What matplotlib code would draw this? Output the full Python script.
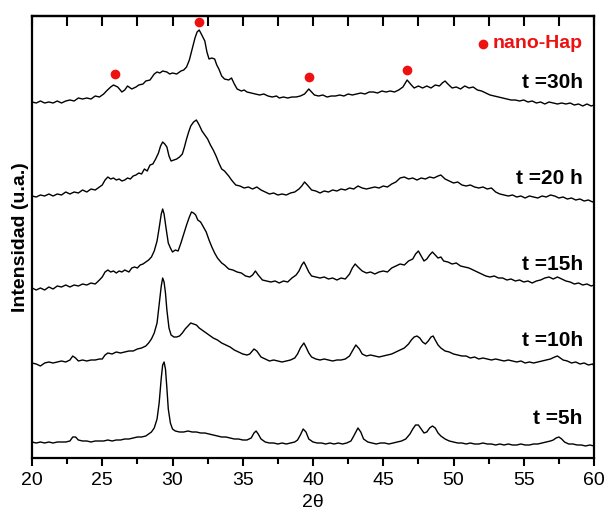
import matplotlib
matplotlib.use("Agg")
import matplotlib.pyplot as plt
from matplotlib.ticker import MultipleLocator

# ---------------- data (arbitrary intensity units) ----------------
x_5h = [20.0, 20.3, 20.6, 20.9, 21.2, 21.5, 21.8, 22.1, 22.4, 22.7, 22.9, 23.1, 23.3, 23.6, 23.9, 24.2,
        24.5, 24.8, 25.1, 25.4, 25.7, 26.0, 26.3, 26.6, 26.9, 27.2, 27.5, 27.8, 28.1, 28.3, 28.5, 28.7,
        28.9, 29.05, 29.2, 29.3, 29.4, 29.5, 29.6, 29.7, 29.85, 30.0, 30.2, 30.5, 30.8, 31.1, 31.4, 31.7,
        32.0, 32.3, 32.6, 32.9, 33.2, 33.5, 33.8, 34.1, 34.4, 34.7, 35.0, 35.3, 35.6, 35.8, 35.95, 36.1,
        36.3, 36.6, 36.9, 37.2, 37.5, 37.8, 38.1, 38.4, 38.7, 38.9, 39.1, 39.3, 39.5, 39.7, 40.0, 40.3,
        40.6, 40.9, 41.2, 41.5, 41.8, 42.1, 42.4, 42.7, 42.9, 43.2, 43.4, 43.6, 43.9, 44.2, 44.5, 44.8,
        45.1, 45.4, 45.7, 46.0, 46.3, 46.6, 46.9, 47.1, 47.3, 47.5, 47.7, 47.9, 48.1, 48.3, 48.5, 48.7,
        48.9, 49.1, 49.4, 49.7, 50.0, 50.3, 50.6, 50.9, 51.2, 51.5, 51.8, 52.1, 52.4, 52.7, 53.0, 53.3,
        53.6, 53.9, 54.2, 54.5, 54.8, 55.1, 55.4, 55.7, 56.0, 56.3, 56.6, 56.9, 57.1, 57.3, 57.5, 57.7,
        57.9, 58.2, 58.5, 58.8, 59.1, 59.4, 59.7, 60.0]
y_5h = [16, 15, 16, 15, 16, 15, 16, 16, 16, 17, 21, 21, 18, 17, 17, 16,
        17, 17, 17, 18, 17, 18, 18, 19, 19, 20, 21, 21, 22, 24, 26, 30,
        39, 55, 80, 93, 96, 89, 70, 49, 35, 29, 27, 26, 26, 27, 26, 26,
        25, 25, 24, 23, 22, 21, 21, 20, 19, 19, 18, 18, 20, 25, 27, 24,
        19, 16, 15, 15, 14, 15, 14, 15, 16, 18, 23, 29, 26, 19, 16, 15,
        15, 14, 15, 14, 15, 14, 15, 17, 22, 30, 26, 19, 16, 15, 14, 15,
        15, 14, 15, 16, 17, 19, 24, 29, 33, 33, 29, 25, 26, 30, 32, 30,
        25, 22, 19, 17, 16, 15, 15, 14, 15, 14, 14, 15, 14, 14, 13, 14,
        13, 14, 13, 13, 14, 13, 13, 14, 14, 15, 16, 17, 18, 20, 21, 19,
        16, 14, 14, 13, 13, 12, 13, 12]

x_10h = [20.0, 20.3, 20.6, 20.9, 21.2, 21.5, 21.8, 22.1, 22.4, 22.7, 22.9, 23.1, 23.3, 23.6, 23.9, 24.2,
         24.5, 24.8, 25.0, 25.2, 25.4, 25.7, 26.0, 26.3, 26.6, 26.9, 27.2, 27.5, 27.8, 28.1, 28.3, 28.5,
         28.7, 28.9, 29.05, 29.2, 29.3, 29.4, 29.5, 29.6, 29.75, 29.9, 30.1, 30.3, 30.5, 30.7, 30.9, 31.1,
         31.3, 31.5, 31.7, 31.9, 32.1, 32.3, 32.6, 32.9, 33.2, 33.5, 33.8, 34.1, 34.4, 34.7, 35.0, 35.3,
         35.5, 35.8, 36.0, 36.3, 36.6, 36.9, 37.2, 37.5, 37.8, 38.1, 38.4, 38.7, 38.9, 39.1, 39.35, 39.5,
         39.7, 39.9, 40.2, 40.5, 40.8, 41.1, 41.4, 41.7, 42.0, 42.3, 42.6, 42.8, 43.05, 43.3, 43.5, 43.8,
         44.1, 44.4, 44.7, 45.0, 45.3, 45.6, 45.9, 46.2, 46.5, 46.8, 47.0, 47.2, 47.4, 47.6, 47.8, 48.0,
         48.2, 48.4, 48.55, 48.7, 48.9, 49.1, 49.4, 49.7, 50.0, 50.3, 50.6, 50.9, 51.2, 51.5, 51.8, 52.1,
         52.4, 52.7, 53.0, 53.3, 53.6, 53.9, 54.2, 54.5, 54.8, 55.1, 55.4, 55.7, 56.0, 56.3, 56.6, 56.9,
         57.2, 57.4, 57.6, 57.8, 58.1, 58.4, 58.7, 59.0, 59.3, 59.6, 59.9, 60.0]
y_10h = [95, 94, 92, 95, 96, 95, 96, 97, 96, 98, 102, 100, 97, 98, 97, 98,
         98, 99, 99, 103, 105, 104, 106, 105, 106, 107, 107, 109, 110, 112, 115, 119,
         125, 135, 154, 172, 180, 176, 165, 148, 130, 123, 121, 121, 122, 125, 129, 132,
         135, 134, 133, 130, 128, 126, 123, 120, 118, 115, 113, 111, 108, 106, 104, 103,
         104, 109, 107, 101, 99, 97, 98, 97, 96, 97, 98, 100, 104, 110, 115, 111,
         105, 101, 99, 98, 99, 98, 97, 98, 98, 99, 102, 107, 113, 109, 104, 102,
         103, 102, 101, 102, 103, 104, 106, 108, 110, 114, 118, 121, 122, 120, 116, 114,
         117, 121, 122, 118, 113, 110, 107, 106, 104, 103, 102, 102, 100, 101, 99, 100,
         99, 98, 99, 98, 97, 98, 97, 96, 97, 95, 96, 95, 96, 97, 98, 99,
         101, 102, 100, 98, 97, 95, 96, 94, 95, 93, 94, 92]

x_15h = [20.0, 20.3, 20.6, 20.9, 21.2, 21.5, 21.8, 22.1, 22.4, 22.7, 23.0, 23.3, 23.6, 23.9, 24.2, 24.5,
         24.8, 25.0, 25.2, 25.4, 25.6, 25.8, 26.0, 26.2, 26.4, 26.6, 26.9, 27.1, 27.3, 27.5, 27.7, 27.9,
         28.1, 28.3, 28.5, 28.7, 28.9, 29.05, 29.2, 29.3, 29.4, 29.55, 29.7, 29.85, 30.0, 30.2, 30.4, 30.6,
         30.8, 31.0, 31.2, 31.35, 31.5, 31.65, 31.8, 32.0, 32.2, 32.4, 32.6, 32.8, 33.0, 33.2, 33.5, 33.7,
         34.0, 34.3, 34.6, 34.9, 35.2, 35.5, 35.7, 35.9, 36.1, 36.4, 36.7, 37.0, 37.3, 37.6, 37.9, 38.2,
         38.5, 38.8, 39.0, 39.2, 39.35, 39.5, 39.7, 39.9, 40.2, 40.5, 40.8, 41.1, 41.4, 41.7, 42.0, 42.3,
         42.6, 42.8, 43.0, 43.2, 43.5, 43.8, 44.1, 44.4, 44.7, 45.0, 45.3, 45.6, 45.9, 46.2, 46.5, 46.8,
         47.1, 47.3, 47.5, 47.7, 47.9, 48.1, 48.3, 48.5, 48.7, 48.9, 49.1, 49.3, 49.6, 49.9, 50.2, 50.5,
         50.8, 51.1, 51.4, 51.7, 52.0, 52.3, 52.6, 52.9, 53.2, 53.5, 53.8, 54.1, 54.4, 54.7, 55.0, 55.3,
         55.6, 55.9, 56.2, 56.5, 56.8, 57.1, 57.4, 57.7, 58.0, 58.3, 58.6, 58.9, 59.2, 59.5, 59.8, 60.0]
y_15h = [170, 168, 170, 168, 171, 169, 172, 171, 173, 171, 173, 172, 174, 173, 175, 174,
         178, 181, 186, 188, 186, 187, 185, 187, 186, 188, 186, 190, 191, 190, 193, 194,
         196, 198, 201, 207, 217, 230, 244, 249, 244, 229, 215, 210, 206, 208, 207, 215,
         224, 233, 241, 246, 245, 243, 238, 236, 231, 226, 218, 211, 205, 200, 195, 193,
         189, 188, 186, 185, 182, 181, 183, 187, 183, 178, 177, 176, 177, 175, 177, 176,
         180, 183, 187, 193, 196, 192, 186, 182, 181, 180, 181, 179, 180, 178, 180, 179,
         184, 190, 194, 191, 187, 185, 186, 184, 186, 187, 186, 190, 192, 194, 193, 197,
         199, 204, 207, 202, 197, 199, 203, 206, 203, 200, 201, 197, 196, 194, 195, 192,
         191, 190, 188, 186, 184, 182, 181, 182, 180, 180, 178, 179, 177, 178, 176, 177,
         175, 177, 178, 180, 181, 179, 181, 179, 177, 176, 174, 175, 173, 174, 172, 173]

x_20h = [20.0, 20.3, 20.6, 20.9, 21.2, 21.5, 21.8, 22.1, 22.4, 22.7, 23.0, 23.3, 23.6, 23.9, 24.2, 24.5,
         24.8, 25.0, 25.2, 25.4, 25.6, 25.8, 26.0, 26.2, 26.4, 26.6, 26.8, 27.0, 27.2, 27.4, 27.6, 27.8,
         28.0, 28.2, 28.4, 28.6, 28.8, 29.0, 29.15, 29.3, 29.45, 29.6, 29.75, 29.9, 30.1, 30.3, 30.5, 30.7,
         30.85, 31.0, 31.15, 31.3, 31.5, 31.7, 31.9, 32.1, 32.3, 32.5, 32.7, 32.9, 33.1, 33.3, 33.5, 33.7,
         34.0, 34.2, 34.5, 34.8, 35.1, 35.4, 35.7, 36.0, 36.3, 36.6, 36.9, 37.2, 37.5, 37.8, 38.1, 38.4,
         38.7, 39.0, 39.2, 39.4, 39.6, 39.9, 40.2, 40.5, 40.8, 41.1, 41.4, 41.7, 42.0, 42.3, 42.6, 42.9,
         43.2, 43.5, 43.8, 44.1, 44.4, 44.7, 45.0, 45.3, 45.6, 45.9, 46.2, 46.5, 46.8, 47.1, 47.4, 47.7,
         48.0, 48.3, 48.6, 48.9, 49.1, 49.4, 49.7, 50.0, 50.3, 50.6, 50.9, 51.2, 51.5, 51.8, 52.1, 52.4,
         52.7, 53.0, 53.3, 53.6, 53.9, 54.2, 54.5, 54.8, 55.1, 55.4, 55.7, 56.0, 56.3, 56.6, 56.9, 57.2,
         57.5, 57.8, 58.1, 58.4, 58.7, 59.0, 59.3, 59.6, 59.9, 60.0]
y_20h = [262, 261, 263, 262, 264, 262, 264, 263, 266, 264, 266, 265, 268, 266, 269, 268,
         271, 273, 278, 281, 279, 280, 278, 279, 277, 278, 280, 279, 282, 283, 285, 284,
         289, 287, 293, 294, 299, 305, 312, 316, 314, 311, 302, 297, 298, 299, 301, 304,
         311, 319, 326, 332, 336, 338, 333, 327, 323, 319, 313, 308, 302, 295, 289, 287,
         282, 278, 273, 272, 270, 271, 269, 271, 268, 266, 264, 265, 263, 264, 263, 265,
         266, 269, 272, 276, 273, 268, 267, 265, 267, 266, 268, 267, 269, 268, 270, 269,
         272, 270, 269, 270, 271, 270, 272, 271, 274, 276, 280, 281, 279, 280, 278, 280,
         279, 281, 280, 282, 283, 279, 277, 275, 276, 273, 272, 273, 271, 270, 271, 269,
         270, 266, 264, 263, 262, 263, 261, 262, 260, 262, 261, 260, 262, 261, 263, 262,
         260, 261, 259, 260, 258, 259, 257, 258, 256, 257]

x_30h = [20.0, 20.3, 20.6, 20.9, 21.2, 21.5, 21.8, 22.1, 22.4, 22.7, 23.0, 23.3, 23.6, 23.9, 24.2, 24.5,
         24.8, 25.1, 25.3, 25.6, 25.8, 26.1, 26.4, 26.6, 26.8, 27.1, 27.4, 27.6, 27.9, 28.1, 28.4, 28.7,
         28.9, 29.1, 29.3, 29.6, 29.8, 30.0, 30.3, 30.6, 30.8, 31.0, 31.2, 31.4, 31.6, 31.75, 31.9, 32.05,
         32.3, 32.45, 32.6, 32.8, 33.0, 33.15, 33.3, 33.5, 33.7, 34.0, 34.2, 34.4, 34.6, 34.9, 35.1, 35.3,
         35.6, 35.9, 36.2, 36.5, 36.8, 37.1, 37.4, 37.6, 37.9, 38.2, 38.5, 38.8, 39.1, 39.4, 39.7, 39.9,
         40.1, 40.4, 40.7, 41.0, 41.3, 41.6, 41.9, 42.2, 42.5, 42.8, 43.1, 43.4, 43.7, 44.0, 44.3, 44.6,
         44.9, 45.2, 45.5, 45.8, 46.1, 46.4, 46.7, 47.0, 47.2, 47.5, 47.8, 48.1, 48.4, 48.7, 49.0, 49.2,
         49.4, 49.6, 49.9, 50.2, 50.5, 50.8, 51.1, 51.4, 51.7, 52.0, 52.3, 52.6, 52.9, 53.2, 53.5, 53.8,
         54.1, 54.4, 54.7, 55.0, 55.3, 55.6, 55.9, 56.2, 56.5, 56.8, 57.1, 57.4, 57.7, 58.0, 58.3, 58.6,
         58.9, 59.2, 59.5, 59.8, 60.0]
y_30h = [356, 355, 357, 355, 356, 355, 357, 355, 357, 358, 357, 360, 359, 360, 359, 362,
         361, 364, 367, 371, 373, 371, 366, 368, 372, 369, 371, 373, 374, 377, 378, 384,
         386, 385, 387, 386, 384, 385, 384, 387, 388, 391, 398, 409, 420, 426, 428, 424,
         417, 406, 399, 400, 399, 393, 389, 382, 379, 378, 380, 374, 369, 367, 368, 366,
         365, 364, 363, 364, 362, 361, 362, 360, 361, 360, 361, 361, 362, 364, 369, 366,
         363, 362, 363, 361, 362, 362, 363, 362, 364, 363, 364, 365, 364, 366, 366, 365,
         367, 366, 367, 366, 368, 371, 378, 373, 370, 372, 370, 372, 370, 373, 372, 375,
         377, 374, 370, 371, 369, 372, 370, 371, 368, 367, 365, 363, 362, 361, 360, 359,
         358, 358, 357, 358, 356, 357, 355, 356, 354, 356, 355, 354, 355, 354, 355, 353,
         354, 352, 354, 352, 353]

series = [(x_5h, y_5h), (x_10h, y_10h), (x_15h, y_15h), (x_20h, y_20h), (x_30h, y_30h)]
labels = ["t =5h", "t =10h", "t =15h", "t =20 h", "t =30h"]
label_y = [39, 118, 193, 280, 375]

hap_x = [25.9, 31.9, 39.75, 46.7]
hap_y = [384, 436, 381, 388]
legend_text = "nano-Hap"

# ---------------- figure ----------------
plt.rcParams['font.family'] = ['Liberation Sans', 'DejaVu Sans']

fig = plt.figure(figsize=(6.04, 5.16), dpi=100)
ax = fig.add_axes([32/604, 1 - 458/516, (594-32)/604, (458-16)/516])

for (xs, ys) in series:
    ax.plot(xs, ys, color='black', lw=1.0)

for lab, ly in zip(labels, label_y):
    ax.text(59.2, ly, lab, ha='right', va='center', fontsize=15, fontweight='bold')

ax.plot(hap_x, hap_y, 'o', color='#ee1111', ms=7, mec='none')
ax.plot([52.1], [414], 'o', color='#ee1111', ms=7, mec='none')
ax.text(52.8, 414, legend_text, color='#ee1111', ha='left', va='center',
        fontsize=14, fontweight='bold')

ax.set_xlim(20, 60)
ax.set_ylim(0, 442)
ax.set_yticks([])
ax.xaxis.set_major_locator(MultipleLocator(5))
ax.xaxis.set_minor_locator(MultipleLocator(2.5))
ax.tick_params(axis='x', which='major', direction='out', length=6, width=1.5, labelsize=14, pad=4)
ax.tick_params(axis='x', which='minor', direction='out', length=4, width=1.5)

sec = ax.secondary_xaxis('top')
sec.set_xticks([20 + 2.5 * i for i in range(17)])
sec.tick_params(direction='in', length=7, width=1.5, labeltop=False)

for s in ax.spines.values():
    s.set_linewidth(1.6)
sec.spines['top'].set_linewidth(1.6)

ax.set_xlabel("2θ", fontsize=14, labelpad=4)
ax.set_ylabel("Intensidad (u.a.)", fontsize=14, fontweight='bold', labelpad=2)

fig.savefig("out.png", dpi=100)
